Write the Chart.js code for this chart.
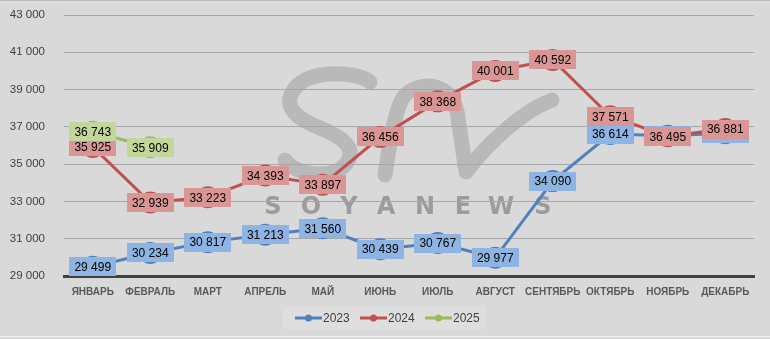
<!DOCTYPE html>
<html>
<head>
<meta charset="utf-8">
<script src="https://cdn.jsdelivr.net/npm/chart.js@4.4.1/dist/chart.umd.min.js"></script>
<style>
  html, body { margin: 0; padding: 0; background: #d9d9d9; }
  #wrap { width: 770px; height: 339px; position: relative; }
</style>
</head>
<body>
<div id="wrap"><canvas id="c"></canvas></div>
<script>
// ---- данные ----
const months = ['ЯНВАРЬ', 'ФЕВРАЛЬ', 'МАРТ', 'АПРЕЛЬ', 'МАЙ', 'ИЮНЬ', 'ИЮЛЬ', 'АВГУСТ', 'СЕНТЯБРЬ', 'ОКТЯБРЬ', 'НОЯБРЬ', 'ДЕКАБРЬ'];
const years = ['2023', '2024', '2025'];
const s2023 = [29499, 30234, 30817, 31213, 31560, 30439, 30767, 29977, 34090, 36614, 36520, 36660];
const s2024 = [35925, 32939, 33223, 34393, 33897, 36456, 38368, 40001, 40592, 37571, 36495, 36881];
const s2025 = [36743, 35909, null, null, null, null, null, null, null, null, null, null];
const yMin = 29000, yMax = 43000, yStep = 2000;

const lineColors = ['#4f81bd', '#c0504d', '#9bbb59'];
const boxColors = ['#8db4e2', '#da9694', '#c4d79b'];
const FONT = '"Liberation Sans", Arial, sans-serif';

const fmt = (v) => String(v).replace(/\B(?=(\d{3})+(?!\d))/g, ' ');

// ---- водяной знак (под сеткой) ----
const watermark = {
  id: 'watermark',
  beforeDraw(chart) {
    const ctx = chart.ctx;
    ctx.save();
    ctx.strokeStyle = '#b9b9b9';
    ctx.lineWidth = 15;
    ctx.lineCap = 'round';
    ctx.lineJoin = 'round';
    // S
    ctx.beginPath();
    ctx.moveTo(370, 82);
    ctx.bezierCurveTo(355, 70, 310, 70, 295, 88);
    ctx.bezierCurveTo(280, 108, 300, 120, 320, 128);
    ctx.bezierCurveTo(345, 138, 358, 150, 345, 165);
    ctx.bezierCurveTo(330, 180, 295, 175, 285, 160);
    ctx.stroke();
    // n + правая дуга
    ctx.beginPath();
    ctx.moveTo(385, 175);
    ctx.bezierCurveTo(390, 140, 396, 105, 405, 95);
    ctx.bezierCurveTo(425, 78, 455, 85, 458, 118);
    ctx.lineTo(466, 172);
    ctx.bezierCurveTo(490, 140, 525, 110, 552, 100);
    ctx.stroke();
    // SOYANEWS
    ctx.fillStyle = '#9c9c9c';
    ctx.font = 'bold 24px "DejaVu Sans", ' + FONT;
    ctx.textAlign = 'center';
    ctx.textBaseline = 'middle';
    const letters = 'SOYANEWS'.split('');
    const lx = [273, 311, 349, 386, 425, 463, 501, 543];
    letters.forEach((l, i) => ctx.fillText(l, lx[i], 208));
    ctx.restore();
  }
};

// ---- подписи значений в прямоугольниках ----
const boxLabels = {
  id: 'boxLabels',
  afterDatasetsDraw(chart) {
    const ctx = chart.ctx;
    ctx.save();
    ctx.font = '12px ' + FONT;
    ctx.textAlign = 'center';
    ctx.textBaseline = 'middle';
    chart.data.datasets.forEach((ds, i) => {
      const meta = chart.getDatasetMeta(i);
      meta.data.forEach((pt, j) => {
        const v = ds.data[j];
        if (v == null) return;
        const txt = fmt(v);
        const w = Math.round(ctx.measureText(txt).width + 10), h = 19;
        ctx.fillStyle = boxColors[i];
        ctx.fillRect(Math.round(pt.x - w / 2), Math.round(pt.y - h / 2), w, h);
        ctx.fillStyle = '#000';
        ctx.fillText(txt, pt.x, pt.y + 1);
      });
    });
    ctx.restore();
  }
};

// ---- легенда в стиле Excel ----
const excelLegend = {
  id: 'excelLegend',
  afterDraw(chart) {
    const ctx = chart.ctx;
    ctx.save();
    ctx.fillStyle = '#dedede';
    ctx.fillRect(283, 307, 203, 22);
    ctx.font = '12px ' + FONT;
    ctx.textBaseline = 'middle';
    ctx.textAlign = 'left';
    const xs = [295, 360, 425];
    years.forEach((y, i) => {
      const x = xs[i], cy = 318;
      ctx.strokeStyle = lineColors[i];
      ctx.lineWidth = 3;
      ctx.beginPath(); ctx.moveTo(x, cy); ctx.lineTo(x + 27, cy); ctx.stroke();
      ctx.fillStyle = lineColors[i];
      ctx.beginPath(); ctx.arc(x + 13.5, cy, 3.5, 0, Math.PI * 2); ctx.fill();
      ctx.fillStyle = '#404040';
      ctx.fillText(y, x + 28, cy + 1);
    });
    // рамка
    ctx.strokeStyle = '#bdbdbd';
    ctx.lineWidth = 1;
    ctx.beginPath(); ctx.moveTo(0, 0.5); ctx.lineTo(770, 0.5); ctx.stroke();
    ctx.strokeStyle = '#f2f2f2';
    ctx.beginPath(); ctx.moveTo(0, 336.5); ctx.lineTo(770, 336.5); ctx.stroke();
    ctx.restore();
  }
};

const series = [s2023, s2024, s2025];

new Chart(document.getElementById('c'), {
  type: 'line',
  data: {
    labels: months,
    datasets: series.map((d, i) => ({
      label: years[i],
      data: d,
      borderColor: lineColors[i],
      backgroundColor: lineColors[i],
      borderWidth: 3,
      pointRadius: 11,
      pointBorderWidth: 0,
      pointBackgroundColor: lineColors[i],
      tension: 0,
      spanGaps: false,
      order: 3 - i
    }))
  },
  options: {
    responsive: true,
    maintainAspectRatio: false,
    animation: false,
    layout: { autoPadding: false, padding: { top: 15, right: 16, bottom: 31, left: 0 } },
    plugins: { legend: { display: false }, tooltip: { enabled: false } },
    scales: {
      x: {
        offset: true,
        grid: { display: false, drawTicks: false },
        border: { color: '#404040', width: 3 },
        ticks: { color: '#595959', font: { family: FONT, size: 10, weight: 'bold' }, padding: 10, maxRotation: 0, minRotation: 0, autoSkip: false }
      },
      y: {
        min: yMin, max: yMax,
        // невидимые засечки дают отступ подписей без лишнего отступа сверху
        grid: { color: '#a6a6a6', lineWidth: 1, drawTicks: true, tickLength: 16, tickColor: 'rgba(0,0,0,0)' },
        border: { display: false },
        ticks: { stepSize: yStep, color: '#404040', font: { family: FONT, size: 11.5 }, padding: 3, callback: (v) => fmt(v) },
        afterFit: (s) => { s.width = 64; }
      }
    }
  },
  plugins: [watermark, boxLabels, excelLegend]
});
</script>
</body>
</html>
